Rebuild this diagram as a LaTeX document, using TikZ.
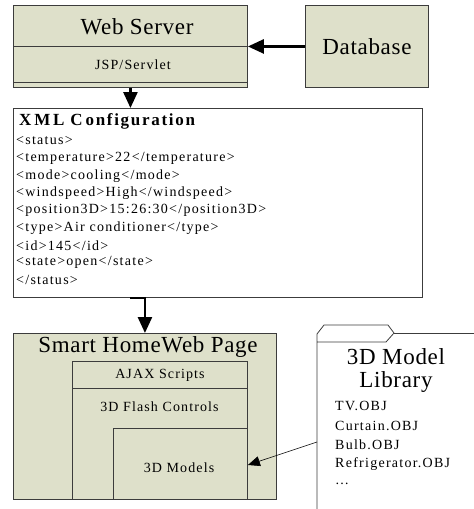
\documentclass[tikz,border=0pt]{standalone}
\usepackage{fontspec}
\setmainfont{Liberation Serif}
\definecolor{panel}{RGB}{222, 224, 202}
\definecolor{edge}{RGB}{60, 60, 60}
\usetikzlibrary{arrows.meta}
\usetikzlibrary{calc}
\usetikzlibrary{positioning}
\tikzset{
  box/.style={draw=edge, fill=panel, line width=0.9pt, anchor=north west, inner sep=0},
  plainbox/.style={draw=edge, fill=white, line width=0.9pt, anchor=north west, inner sep=0},
  label/.style={inner sep=0, font=\fontsize{14}{16}\selectfont\addfontfeature{LetterSpace=8}},
  biglabel/.style={inner sep=0, font=\fontsize{23}{25}\selectfont\addfontfeature{LetterSpace=3}},
  xmlline/.style={inner sep=0, anchor=west, font=\fontsize{14}{16}\selectfont\addfontfeature{LetterSpace=9}},
  flow/.style={-{Triangle[length=16pt,width=14pt]}, line width=2.6pt},
  pointer/.style={-{Triangle[length=12pt,width=10pt]}, line width=0.6pt}
}

\begin{document}
\begin{tikzpicture}[x=1pt, y=-1pt]
  \useasboundingbox (0,0) rectangle (474,509);

  % web server with its servlet layer
  \node[box, minimum width=234pt, minimum height=82pt] (server) at (13,5) {};
  \draw[edge, line width=0.9pt] (13,46) -- (247,46);
  \draw[edge, line width=0.9pt] (13,82) -- (247,82);
  \node[biglabel] (servername) at (137,27) {Web Server};
  \node[label] (servlet) at (133,65) {JSP/Servlet};

  % database
  \node[box, minimum width=123pt, minimum height=82pt] (db) at (305,5) {};
  \node[biglabel] (dbname) at (db.center) {Database};

  % xml configuration
  \node[plainbox, minimum width=409pt, minimum height=189pt] (xml) at (13,108) {};
  \node[inner sep=0, anchor=west, font=\fontsize{17}{19}\selectfont\bfseries\addfontfeature{LetterSpace=10}]
    (xmltitle) at (19,121) {X\,M\,L C\,onfiguration};
  \foreach \txt [count=\i] in {
    {<status>},
    {<temperature>22</temperature>},
    {<mode>cooling</mode>},
    {<windspeed>High</windspeed>},
    {<position3D>15:26:30</position3D>},
    {<type>Air conditioner</type>},
    {<id>145</id>},
    {<state>open</state>},
    {</status>}}
    \node[xmlline] (xml\i) at (16,{123.5+17.4*\i}) {\txt};

  % smart home web page
  \node[box, minimum width=263pt, minimum height=166pt] (home) at (13,333) {};
  \node[biglabel] (homename) at (148,347) {Smart HomeWeb Page};
  \node[box, minimum width=175pt, minimum height=27pt] (ajax) at (72,361) {};
  \node[label] at (ajax.center) {AJAX Scripts};
  \node[box, minimum width=175pt, minimum height=111pt] (flash) at (72,388) {};
  \node[label] at (159.5,407) {3D Flash Controls};
  \node[box, minimum width=134pt, minimum height=71pt] (models) at (113,428) {};
  \node[label] at (179,468) {3D Models};

  % model library folder
  \draw[edge, line width=0.8pt] (317,509) -- (317,334) -- (324,325) -- (388,325)
    -- (394,333) -- (386,342) -- (317,342);
  \draw[edge, line width=0.8pt] (394,333) -- (474,333) -- (474,338);
  \node[biglabel] (libname) at (396,357) {3D Model};
  \node[biglabel] (libname2) at (396,382) {Library};
  \foreach \txt [count=\i] in {TV.OBJ, Curtain.OBJ, Bulb.OBJ, Refrigerator.OBJ, \dots}
    \node[xmlline] (obj\i) at (335,{386.5+19.5*\i}) {\txt};
  \coordinate (libport) at (317,442);

  % connectors
  \draw[flow] (db.west) -- (server.east);
  \draw[flow] (server.south) -- (server.south |- xml.north);
  \draw[flow] (xml.south -| server.south) -| (home.north);
  \draw[pointer] (libport) -- (models.east |- 0,465);
\end{tikzpicture}
\end{document}
